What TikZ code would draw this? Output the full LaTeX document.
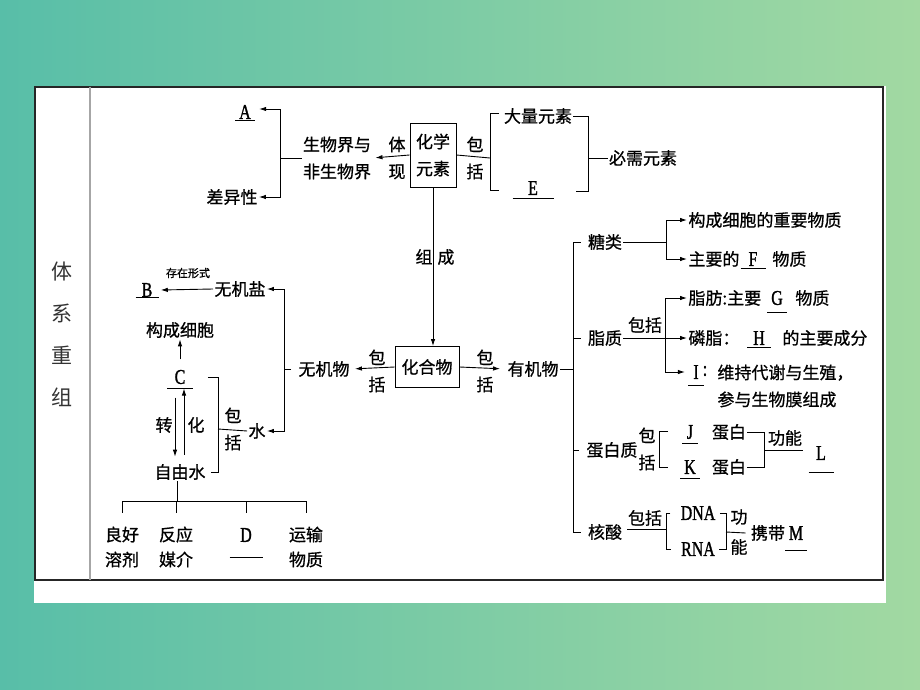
\documentclass[tikz,border=0pt]{standalone}
\usepackage{fontspec}
\usepackage{tikz}
\usetikzlibrary{calc}
\usetikzlibrary{arrows.meta}
\setmainfont{Noto Sans CJK SC}[FakeBold=0.8]
\newfontfamily\titlef{Noto Sans CJK SC}
\newfontfamily\latf[FakeStretch=0.76, FakeBold=1.2]{Liberation Serif}
\definecolor{bgleft}{RGB}{88,190,168}
\definecolor{bgright}{RGB}{162,217,162}

\begin{document}
\begin{tikzpicture}[scale=1,x=1pt,y=-1pt,>={Latex[length=7pt,width=4.5pt]},
    line width=0.9pt,
    every node/.style={inner sep=1pt, font=\fontsize{17}{27}\selectfont},
    lbl/.style={align=center},
    rtxt/.style={anchor=west},
    boxed/.style={draw, line width=0.9pt, align=center},
    latin/.style={font=\latf\fontsize{21}{24}\selectfont},
    blank/.style={latin, inner xsep=8pt},
    tiny/.style={font=\fontsize{11}{13}\selectfont}]
    \useasboundingbox (0,0) rectangle (920,690);
    \shade[left color=bgleft, right color=bgright] (0,0) rectangle (920,690);
    \fill[white] (34,86) rectangle (886,603);
    \draw[line width=1.2pt, black!85] (35,87) rectangle (883,580);
    \draw[gray!70, line width=1.5pt] (90,87) -- (90,580);
    \node[lbl, font=\titlef\fontsize{21}{42}\selectfont, text=black!80] (title) at (62,334) {体\\系\\重\\组};

    \node[boxed, minimum width=46pt, minimum height=64pt] (chem) at (433,155) {化学\\元素};
    \node[lbl] (tixian) at (397,158) {体\\现};
    \node[lbl] (bao1) at (475,158) {包\\括};
    \node[lbl] (bio) at (337,158) {生物界与\\非生物界};
    \node[blank] (A) at (245,112) {A};
    \node (diff) at (232,197) {差异性};
    \node (big) at (538,116) {大量元素};
    \node[blank] (E) at (533,188) {E};
    \node (need) at (643,158) {必需元素};
    \coordinate (brA) at (280,158);
    \coordinate (brE) at (490,158);
    \coordinate (bl1) at (490,113);
    \coordinate (bl2) at (490,190);
    \coordinate (brB) at (588,158);
    \coordinate (br2) at (588,191);
    \draw[->, shorten >=3pt] (chem.west) -- (bio.east);
    \draw (bio.west) -- (brA);
    \draw[->] (brA) |- ([yshift=3pt]A.east);
    \draw[->] (brA) |- (diff.east);
    \draw (chem.east) -- (brE);
    \draw ([xshift=9pt]bl1) -- (bl1) -- (bl2) -- ([xshift=9pt]bl2);
    \draw (big.east) -| (br2) -- ([xshift=-12pt]br2);
    \draw (brB) -- (need.west);

    \node (zucheng) at (435,257) {组\hspace{5pt}成};
    \node[boxed, minimum width=64pt, minimum height=41pt] (comp) at (427,367) {化合物};
    \draw[->] (chem.south) -- (chem.south |- comp.north);
    \node[lbl] (bao2) at (377,371) {包\\括};
    \node[lbl] (bao3) at (485,371) {包\\括};
    \node (inorg) at (324,369) {无机物};
    \node (org) at (533,369) {有机物};
    \draw[->, shorten >=4pt] (comp.west) -- (inorg.east);
    \draw[->, shorten >=6pt] (comp.east) -- (org.west);

    \coordinate (brI) at (284,369);
    \node (salt) at (240,289) {无机盐};
    \node[blank] (B) at (147,290) {B};
    \node[tiny] (form) at (188,273) {存在形式};
    \node (water) at (257,431) {水};
    \node (cell) at (180,330) {构成细胞};
    \node[blank] (C) at (180,377) {C};
    \node (free) at (180,472) {自由水};
    \node (zhuan) at (164,425) {转};
    \node (hua) at (196,425) {化};
    \node[lbl] (bao4) at (233,429) {包\\括};
    \coordinate (brW) at (218,429);
    \draw ([xshift=-6pt]inorg.west) -- (brI);
    \draw[->] (brI) |- (salt.east);
    \draw[->] (brI) |- (water.east);
    \draw[->] (salt.west) -- (B.east);
    \draw[->, shorten <=9pt] (C.north) -- (cell.south);
    \draw[->] ($(C.south)+(-5,12)$) -- ($(free.north)+(-5,-6)$);
    \draw[->] ($(free.north)+(4,-8)$) -- ($(C.south)+(4,3)$);
    \draw ([xshift=14pt]C.east) -| (brW);
    \draw ([xshift=4pt]free.east) -| (brW);
    \draw (brW) -- (water.west);

    \coordinate (bus) at (177,501);
    \node[lbl, font=\fontsize{17}{25}\selectfont] (s1) at (122,547) {良好\\溶剂};
    \node[lbl, font=\fontsize{17}{25}\selectfont] (s2) at (176,547) {反应\\媒介};
    \node[blank] (D) at (246,535) {D};
    \node[lbl, font=\fontsize{17}{25}\selectfont] (s4) at (306,547) {运输\\物质};
    \draw (bus |- free.south) -- (bus);
    \draw (s1.north |- bus) -- (s4.north |- bus);
    \foreach \n in {s1,s2,D,s4} \draw (\n.north |- bus) -- ++(0,12);

    \coordinate (brO) at (573,369);
    \node (sugar) at (605,242) {糖类};
    \node (lipid) at (605,338) {脂质};
    \node (prot) at (612,450) {蛋白质};
    \node (nucl) at (605,532) {核酸};
    \draw (org.east) -- (brO);
    \draw ([xshift=-6pt]sugar.west) -| (brO |- nucl.west) -- ([xshift=-6pt]nucl.west);
    \foreach \n in {lipid,prot} \draw ([xshift=-6pt]\n.west) -- (brO |- \n.west);

    \coordinate (brS) at (666,242);
    \node[rtxt] (sug1) at (687,220) {构成细胞的重要物质};
    \node[rtxt] (sug2) at (687,259) {主要的};
    \node[blank] (F) at (753,259) {F};
    \node[rtxt] (sug3) at (771,259) {物质};
    \draw (sugar.east) -- (brS);
    \draw[->] (brS) |- (sug1.west);
    \draw[->] (brS) |- (sug2.west);

    \coordinate (brL) at (665,338);
    \node[rtxt] (lip1) at (687,298) {脂肪:主要};
    \node[blank] (G) at (777,298) {G};
    \node[rtxt] (lip1b) at (794,298) {物质};
    \node[rtxt] (lip2) at (687,338) {磷脂：};
    \node[blank] (H) at (759,338) {H};
    \node[rtxt] (lip2b) at (781,338) {的主要成分};
    \node[blank] (I) at (696,372) {I};
    \node[latin] (Icolon) at (705,371) {:};
    \node[rtxt, align=left] (lip3) at (716,386) {维持代谢与生殖，\\参与生物膜组成};
    \node (bk1) at (645,325) {包括};
    \draw[->] (lipid.east) -- (lip2.west);
    \draw[->] (brL) |- (lip1.west);
    \draw[->] (brL) |- (I.west);

    \node[lbl] (bao5) at (647,449) {包\\括};
    \coordinate (pb1) at (659,431);
    \coordinate (pb2) at (659,467);
    \node[blank] (J) at (690,432) {J};
    \node[blank] (K) at (690,467) {K};
    \node (pj) at (729,432) {蛋白};
    \node (pk) at (729,467) {蛋白};
    \coordinate (brP) at (764,450);
    \coordinate (gnEnd) at (803,450);
    \node (gn) at (785,438) {功能};
    \node[blank] (L) at (821,453) {L};
    \draw ([xshift=9pt]pb1) -- (pb1) -- (pb2) -- ([xshift=9pt]pb2);
    \draw (pj.east) -| (brP);
    \draw (pk.east) -| (brP);
    \draw (brP) -- (gnEnd);

    \node (bk2) at (645,518) {包括};
    \coordinate (brN) at (666,529);
    \node[latin] (dna) at (698,513) {DNA};
    \node[latin] (rna) at (698,549) {RNA};
    \coordinate (brD) at (726,532);
    \node (gong) at (739,517) {功};
    \node (neng) at (739,547) {能};
    \node (carry) at (768,533) {携带};
    \node[blank] (M) at (796,533) {M};
    \draw ($(nucl.east |- brN)+(4,0)$) -- (brN);
    \draw ([xshift=-9pt]dna.west) -| (brN) |- ([xshift=-9pt]rna.west);
    \draw ([xshift=3pt]dna.east) -| (brD) |- ([xshift=3pt]rna.east);
    \draw (brD) -- ($(carry.west)+(-4,0)$);

    \foreach \n/\hw/\dy in {A/10/8, B/11.5/7, C/13/11, D/16.5/22, E/20.5/10, F/12.5/9, G/10/14, H/12/9, I/8/13, J/8/11, K/10/11, L/12.5/19, M/11/17}
        \draw ($(\n.center)+(-\hw,\dy)$) -- ++(2*\hw,0);
\end{tikzpicture}
\end{document}
